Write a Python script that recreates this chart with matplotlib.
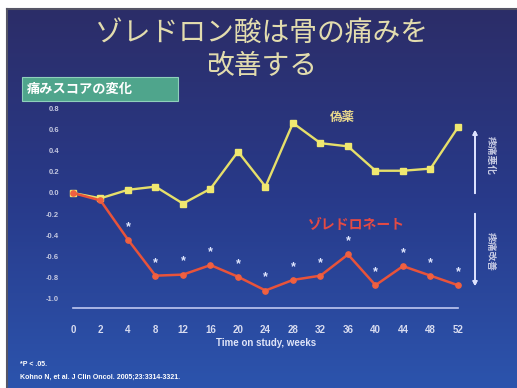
import matplotlib.pyplot as plt
import numpy as np
from matplotlib.colors import LinearSegmentedColormap
from matplotlib.patches import Rectangle

plt.rcParams['font.family'] = ['Noto Sans CJK JP', 'DejaVu Sans']
LATIN = ['Liberation Sans', 'DejaVu Sans']

# change in pain score, placebo vs zoledronic acid
weeks = ['0', '2', '4', '8', '12', '16', '20', '24', '28', '32', '36', '40', '44', '48', '52']
placebo = [0.0, -0.05, 0.03, 0.06, -0.10, 0.04, 0.39, 0.06, 0.66, 0.47, 0.44, 0.21, 0.21, 0.23, 0.62]
zoledronate = [0.0, -0.07, -0.44, -0.78, -0.77, -0.68, -0.79, -0.92, -0.82, -0.78, -0.58, -0.87, -0.69, -0.78, -0.87]
significant = [False, False] + [True] * 13
yticks = [-1.0, -0.8, -0.6, -0.4, -0.2, 0.0, 0.2, 0.4, 0.6, 0.8]

W, H = 517, 388
fig = plt.figure(figsize=(W / 100, H / 100), dpi=100)
fig.patch.set_facecolor('white')


def fx(x):
    return x / W


def fy(y):
    return 1 - y / H


# slide background: dark navy at the top fading to blue
bg = fig.add_axes([fx(7), 0, 1 - fx(7), fy(9)])
cmap = LinearSegmentedColormap.from_list('slide', ['#2c2d68', '#283a8a', '#2c54ad'])
grad = np.linspace(0, 1, 256).reshape(-1, 1)
bg.imshow(grad, aspect='auto', cmap=cmap, extent=[0, 1, 0, 1], origin='upper')
bg.axis('off')
fig.add_artist(plt.Line2D([fx(7), fx(7)], [0, fy(9)], color='#555566', lw=1.5))
fig.add_artist(plt.Line2D([fx(7), 1], [fy(9), fy(9)], color='#555566', lw=1.5))

# title
fig.text(fx(262), fy(33), 'ゾレドロン酸は骨の痛みを', ha='center', va='center',
         fontsize=20, color='#e2dcae')
fig.text(fx(262), fy(66), '改善する', ha='center', va='center',
         fontsize=20, color='#e2dcae')

# subtitle box
fig.add_artist(Rectangle((fx(22), fy(101)), fx(178) - fx(22), fy(77) - fy(101),
                         transform=fig.transFigure, facecolor='#4fa58c',
                         edgecolor='#8fd0bc', lw=0.8))
fig.text(fx(27), fy(89), '痛みスコアの変化', ha='left', va='center',
         fontsize=9.5, color='white', fontweight='bold')

ax = fig.add_axes([fx(60.6), fy(308), fx(485.5) - fx(60.6), fy(97.6) - fy(308)])
ax.set_facecolor('none')
x = np.arange(len(weeks))

ax.plot(x, placebo, color='#e6df6a', lw=1.7, marker='s', ms=4,
        mfc='#f0e870', mec='#f0e870', zorder=3)
ax.plot(x, zoledronate, color='#e8533a', lw=1.8, marker='o', ms=3.8,
        mfc='#f06040', mec='#f06040', zorder=3)

for xi, yi, sig in zip(x, zoledronate, significant):
    if sig:
        ax.annotate('*', (xi, yi), xytext=(0, 5), textcoords='offset points',
                    ha='center', va='bottom', color='#dfe6ff', fontsize=9,
                    fontweight='bold', family=LATIN)

ax.text(9.8, 0.71, '偽薬', ha='center', va='center', fontsize=9,
        color='#e8d88c', fontweight='bold')
ax.text(10.3, -0.30, 'ゾレドロネート', ha='center', va='center', fontsize=10,
        color='#e44a44', fontweight='bold')

ax.set_xlim(-0.45, 15)
ax.set_ylim(-1.085, 0.9)
ax.set_xticks(x)
ax.set_xticklabels(weeks)
ax.set_yticks(yticks)
ax.set_yticklabels(['%.1f' % v for v in yticks])
ax.tick_params(axis='x', length=0, pad=12, labelsize=7, labelcolor='#d8dcf0')
ax.tick_params(axis='y', length=0, pad=1, labelsize=5.5, labelcolor='#c4c8e0')
for lab in ax.get_xticklabels() + ax.get_yticklabels():
    lab.set_fontweight('bold')
    lab.set_family(LATIN)
for side in ['top', 'right', 'left']:
    ax.spines[side].set_visible(False)
ax.spines['bottom'].set_color('#c0c8f0')
ax.spines['bottom'].set_linewidth(1.2)
ax.spines['bottom'].set_bounds(0, 14)

fig.text(fx(266), fy(343), 'Time on study, weeks', ha='center', va='center',
         fontsize=7, color='#dfe4f8', fontweight='bold', family=LATIN)

# direction arrows on the right
arrow = dict(arrowstyle='-|>', color='#dde2ff', lw=1.3, mutation_scale=6)
fig.add_artist(plt.annotate('', xy=(fx(475), fy(127)), xytext=(fx(475), fy(196)),
                            xycoords='figure fraction', arrowprops=arrow))
fig.add_artist(plt.annotate('', xy=(fx(475), fy(289)), xytext=(fx(475), fy(211)),
                            xycoords='figure fraction', arrowprops=arrow))
fig.text(fx(491), fy(155), '疼痛悪化', rotation=270, ha='center', va='center',
         fontsize=7, color='#c8cce4', fontweight='bold')
fig.text(fx(491), fy(251), '疼痛改善', rotation=270, ha='center', va='center',
         fontsize=7, color='#c8cce4', fontweight='bold')

# footnotes
fig.text(fx(20), fy(365), '*P < .05.', ha='left', va='center', fontsize=5,
         color='white', fontweight='bold', family=LATIN)
fig.text(fx(20), fy(377), 'Kohno N, et al. J Clin Oncol. 2005;23:3314-3321.',
         ha='left', va='center', fontsize=5, color='white', fontweight='bold',
         family=LATIN)

fig.savefig('out.png', dpi=100)
